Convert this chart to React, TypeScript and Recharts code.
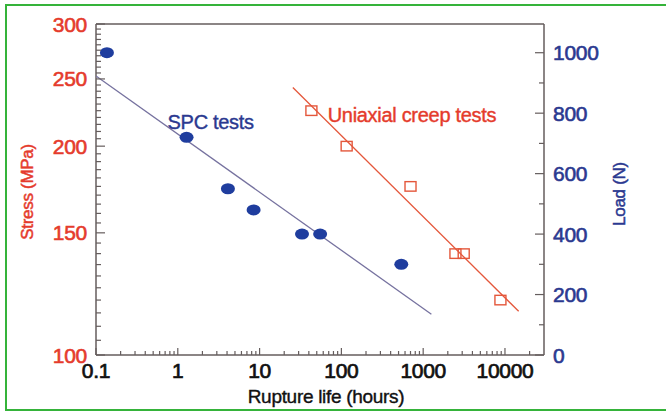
import React from 'react';
import { ScatterChart, Scatter, XAxis, YAxis, ReferenceLine, ReferenceDot } from 'recharts';

// SPC (small punch creep) results, plotted against the load axis
const spcHours = [0.136, 1.28, 4.1, 8.45, 33, 55, 540];
const spcLoad = [1000, 720, 550, 480, 400, 400, 300];

// uniaxial creep results, plotted against the stress axis
const creepHours = [43, 116, 700, 2480, 3130, 8800];
const creepStress = [225, 200, 175, 140, 140, 120];

// fitted trend lines (end points)
const spcFitHours = [0.1, 1260];
const spcFitLoad = [923, 135];
const creepFitHours = [25.5, 14700];
const creepFitStress = [243, 115.6];

// tick labels
const xTickLabels = [0.1, 1, 10, 100, 1000, 10000];
const stressTickLabels = [100, 150, 200, 250, 300];
const loadTickLabels = [0, 200, 400, 600, 800, 1000];

const xTicks: number[] = [];
xTickLabels.forEach((d) => {
  for (let m = 1; m <= 9; m++) {
    const v = Number((m * d).toPrecision(6));
    if (v < 30000) xTicks.push(v);
  }
});
const stressTicks: number[] = [];
for (let s = 100; s <= 300; s += 5) stressTicks.push(s);
const loadTicks: number[] = [];
for (let l = 0; l <= 1000; l += 100) loadTicks.push(l);

const spcPoints = spcHours.map((t, i) => ({ t, v: spcLoad[i] }));
const creepPoints = creepHours.map((t, i) => ({ t, v: creepStress[i] }));
const spcFit = spcFitHours.map((t, i) => ({ t, v: spcFitLoad[i] }));
const creepFit = creepFitHours.map((t, i) => ({ t, v: creepFitStress[i] }));

const FONT = '"Liberation Sans", Arial, sans-serif';
const AXIS = '#655d5d';
const RED = '#e53b2c';
const BLUE = '#2b3990';
const DOT = '#1f3d9e';
const SPC_LINE = '#76729f';
const CREEP_LINE = '#e4573b';
const GAP = 9;

// the scanned figure has heavy, slightly blurred lettering
const heavy = (color: string, w = 0.6) => ({ stroke: color, strokeWidth: w, letterSpacing: -0.3 });

const LeftTick = (props: any) => {
  const { x, y, payload } = props;
  const major = stressTickLabels.includes(payload.value);
  const ax = x + GAP;
  return (
    <g>
      <line x1={ax} x2={ax + (major ? 9 : 5)} y1={y} y2={y} stroke={AXIS} strokeWidth={1.2} />
      {major && (
        <text x={x} y={y} dy="0.36em" textAnchor="end" fill={RED} fontSize={21} fontFamily={FONT} {...heavy(RED)}>
          {payload.value}
        </text>
      )}
    </g>
  );
};

const RightTick = (props: any) => {
  const { x, y, payload } = props;
  const major = loadTickLabels.includes(payload.value);
  const ax = x - GAP;
  return (
    <g>
      <line x1={ax} x2={ax - (major ? 9 : 5)} y1={y} y2={y} stroke={AXIS} strokeWidth={1.2} />
      {major && (
        <text x={x} y={y} dy="0.36em" textAnchor="start" fill={BLUE} fontSize={21} fontFamily={FONT} {...heavy(BLUE)}>
          {payload.value}
        </text>
      )}
    </g>
  );
};

const BottomTick = (props: any) => {
  const { x, y, payload } = props;
  const major = xTickLabels.includes(payload.value);
  const ay = y - 8;
  return (
    <g>
      <line x1={x} x2={x} y1={ay} y2={ay - (major ? 7 : 4)} stroke={AXIS} strokeWidth={1.2} />
      {major && (
        <text x={x} y={y} dy="0.71em" textAnchor="middle" fill="#111" fontSize={21} fontFamily={FONT} {...heavy('#111', 0.7)}>
          {String(payload.value)}
        </text>
      )}
    </g>
  );
};

const Ellipse = (p: any) => <ellipse cx={p.cx} cy={p.cy} rx={7} ry={5.5} fill={DOT} />;
const OpenSquare = (p: any) => (
  <rect x={p.cx - 5.5} y={p.cy - 4.75} width={11} height={9.5} fill="none" stroke={CREEP_LINE} strokeWidth={1.4} />
);
const NoMark = () => <g />;

const App: React.FC = () => {
  return (
    <div style={{ position: 'fixed', left: 0, top: 0, width: 666, height: 412, background: '#fff', overflow: 'hidden' }}>
      <div
        style={{
          position: 'absolute', left: 5, top: 4, width: 700, height: 407,
          border: '2px solid #35b33a', boxSizing: 'border-box',
        }}
      />
      <div style={{ position: 'absolute', left: 0, top: 0 }}>
        <ScatterChart width={666} height={412} margin={{ top: 24, right: 62, bottom: 7, left: 36 }}>
          <XAxis
            dataKey="t"
            type="number"
            scale="log"
            domain={[0.1, 30000]}
            ticks={xTicks}
            interval={0}
            tickSize={0}
            tickMargin={8}
            tickLine={false}
            height={50}
            axisLine={{ stroke: AXIS, strokeWidth: 1.5 }}
            tick={<BottomTick />}
            allowDataOverflow
          />
          <YAxis
            yAxisId="left"
            dataKey="v"
            type="number"
            scale="log"
            domain={[100, 300]}
            ticks={stressTicks}
            interval={0}
            tickSize={0}
            tickMargin={GAP}
            tickLine={false}
            width={60}
            axisLine={{ stroke: AXIS, strokeWidth: 1.5 }}
            tick={<LeftTick />}
            allowDataOverflow
          />
          <YAxis
            yAxisId="right"
            orientation="right"
            dataKey="v"
            type="number"
            domain={[0, 1095]}
            ticks={loadTicks}
            interval={0}
            tickSize={0}
            tickMargin={GAP}
            tickLine={false}
            width={60}
            axisLine={{ stroke: AXIS, strokeWidth: 1.5 }}
            tick={<RightTick />}
            allowDataOverflow
          />
          <ReferenceLine yAxisId="left" y={300} stroke={AXIS} strokeWidth={1.5} />
          <Scatter
            yAxisId="right"
            data={spcFit}
            line={{ stroke: SPC_LINE, strokeWidth: 1.3 }}
            shape={NoMark}
            isAnimationActive={false}
          />
          <Scatter
            yAxisId="left"
            data={creepFit}
            line={{ stroke: CREEP_LINE, strokeWidth: 1.3 }}
            shape={NoMark}
            isAnimationActive={false}
          />
          <Scatter yAxisId="right" data={spcPoints} shape={Ellipse} isAnimationActive={false} />
          <Scatter yAxisId="left" data={creepPoints} shape={OpenSquare} isAnimationActive={false} />
          <ReferenceDot
            yAxisId="right"
            x={0.75}
            y={772}
            r={0}
            shape={(p: any) => (
              <text x={p.cx} y={p.cy} dy="0.36em" fill={BLUE} fontSize={20} fontFamily={FONT} {...heavy(BLUE, 0.4)}>
                SPC tests
              </text>
            )}
          />
          <ReferenceDot
            yAxisId="left"
            x={68}
            y={222}
            r={0}
            shape={(p: any) => (
              <text x={p.cx} y={p.cy} dy="0.36em" fill={RED} fontSize={20} fontFamily={FONT} {...heavy(RED, 0.4)}>
                Uniaxial creep tests
              </text>
            )}
          />
        </ScatterChart>
      </div>
      <svg width={666} height={412} style={{ position: 'absolute', left: 0, top: 0, pointerEvents: 'none' }}>
        <text
          x={27}
          y={192}
          transform="rotate(-90 27 192)"
          textAnchor="middle"
          dy="0.36em"
          fill={RED}
          fontSize={17}
          fontFamily={FONT}
          {...heavy(RED, 0.5)}
        >
          Stress (MPa)
        </text>
        <text
          x={619}
          y={194}
          transform="rotate(-90 619 194)"
          textAnchor="middle"
          dy="0.36em"
          fill={BLUE}
          fontSize={17}
          fontFamily={FONT}
          {...heavy(BLUE, 0.5)}
        >
          Load (N)
        </text>
        <text x={326} y={403} textAnchor="middle" fill="#111" fontSize={19} fontFamily={FONT} {...heavy('#111', 0.4)}>
          Rupture life (hours)
        </text>
      </svg>
    </div>
  );
};

export default App;
